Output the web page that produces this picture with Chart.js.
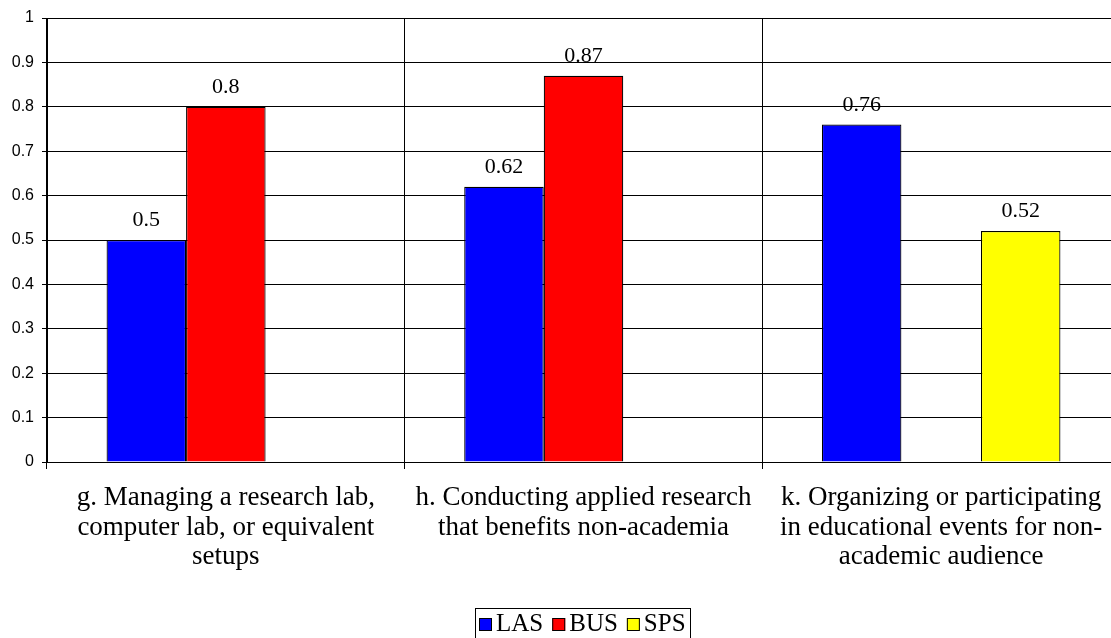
<!DOCTYPE html>
<html>
<head>
<meta charset="utf-8">
<script src="https://cdn.jsdelivr.net/npm/chart.js@4/dist/chart.umd.min.js"></script>
<style>
  html, body { margin: 0; padding: 0; background: #fff; overflow: hidden; }
  #wrap { width: 1122px; height: 638px; }
</style>
</head>
<body>
<div id="wrap"><canvas id="c" width="1122" height="638"></canvas></div>
<script>
// Categories (multi-line axis labels)
const categories = [
  ["g. Managing a research lab,", "computer lab, or equivalent", "setups"],
  ["h. Conducting applied research", "that benefits non-academia"],
  ["k. Organizing or participating", "in educational events for non-", "academic audience"]
];
// Series values
const seriesNames = ["LAS", "BUS", "SPS"];
const lasValues = [0.5, 0.62, 0.76];
const busValues = [0.8, 0.87, null];
const spsValues = [null, null, 0.52];
const seriesColors = ["#0000FF", "#FF0000", "#FFFF00"];
// Value axis
const yMin = 0, yMax = 1, yStep = 0.1;

const serif = "'Liberation Serif', 'Times New Roman', serif";
const sans = "'Liberation Sans', Arial, sans-serif";

// Value labels above each bar
const valueLabels = {
  id: 'valueLabels',
  afterDatasetsDraw(chart) {
    const ctx = chart.ctx;
    ctx.save();
    ctx.font = "22px " + serif;
    ctx.fillStyle = "#000";
    ctx.textAlign = "center";
    ctx.textBaseline = "alphabetic";
    chart.data.datasets.forEach((ds, i) => {
      const meta = chart.getDatasetMeta(i);
      meta.data.forEach((bar, j) => {
        const v = ds.data[j];
        if (v === null || v === undefined) return;
        ctx.fillText(String(v), bar.x, bar.y - 14);
      });
    });
    ctx.restore();
  }
};

// Boxed legend at the bottom
const boxedLegend = {
  id: 'boxedLegend',
  afterDraw(chart) {
    const ctx = chart.ctx;
    ctx.save();
    const fontSize = 25, sq = 13, gap = 4, spacing = 9, pad = 4;
    ctx.font = fontSize + "px " + serif;
    const items = chart.data.datasets.map(ds => ({
      label: ds.label, color: ds.backgroundColor, w: ctx.measureText(ds.label).width
    }));
    let total = pad * 2;
    items.forEach((it, k) => { total += sq + gap + it.w + (k < items.length - 1 ? spacing : 0); });
    const cx = 582, top = 608, h = 30;
    let x = Math.round(cx - total / 2);
    ctx.strokeStyle = "#000";
    ctx.lineWidth = 1;
    ctx.strokeRect(x + 0.5, top + 0.5, Math.round(total), h);
    const cy = top + h / 2 + 1;
    x += pad;
    items.forEach(it => {
      ctx.fillStyle = it.color;
      ctx.fillRect(x, Math.round(cy - sq / 2), sq, sq);
      ctx.strokeRect(x + 0.5, Math.round(cy - sq / 2) + 0.5, sq - 1, sq - 1);
      x += sq + gap;
      ctx.fillStyle = "#000";
      ctx.textBaseline = "middle";
      ctx.fillText(it.label, x, cy);
      x += it.w + spacing;
    });
    ctx.restore();
  }
};

new Chart(document.getElementById('c'), {
  type: 'bar',
  data: {
    labels: categories,
    datasets: [
      { label: seriesNames[0], data: lasValues, backgroundColor: seriesColors[0] },
      { label: seriesNames[1], data: busValues, backgroundColor: seriesColors[1] },
      { label: seriesNames[2], data: spsValues, backgroundColor: seriesColors[2] }
    ].map(d => Object.assign(d, {
      borderColor: "#000", borderWidth: 1.2, categoryPercentage: 0.667, barPercentage: 1
    }))
  },
  options: {
    responsive: false,
    animation: false,
    devicePixelRatio: 1,
    layout: { padding: { top: 18, right: 2, bottom: 0, left: 0 } },
    plugins: { legend: { display: false }, tooltip: { enabled: false } },
    scales: {
      x: {
        offset: true,
        grid: { offset: true, color: "#000", lineWidth: 1, tickLength: 7, drawTicks: true },
        border: { color: "#000", width: 1 },
        ticks: {
          color: "#000", maxRotation: 0, autoSkip: false, padding: 14,
          font: { family: serif, size: 27, lineHeight: 1.1 }
        },
        afterFit(scale) { scale.height = 176; }
      },
      y: {
        min: yMin, max: yMax,
        grid: { color: "#000", lineWidth: 1, tickLength: 5 },
        border: { color: "#000", width: 1 },
        ticks: {
          stepSize: yStep, color: "#000", padding: 8,
          font: { family: sans, size: 16 },
          callback: v => String(Math.round(v * 10) / 10)
        },
        afterFit(scale) { scale.width = 47; }
      }
    }
  },
  plugins: [valueLabels, boxedLegend]
});
</script>
</body>
</html>
